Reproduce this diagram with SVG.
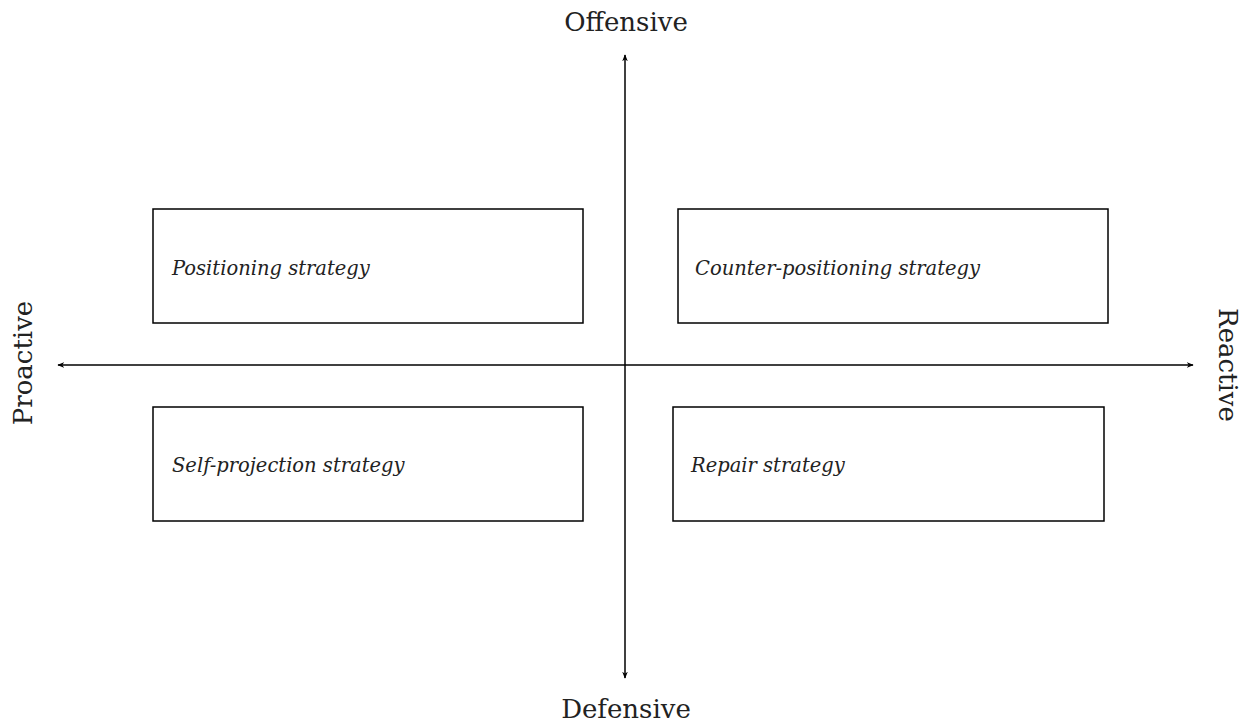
<svg xmlns="http://www.w3.org/2000/svg" width="1249" height="723" viewBox="0 0 1249 723">
<style>
.box{fill:#fff;stroke:#000;stroke-width:1.5}
.lbl{font-family:"DejaVu Serif","Liberation Serif",serif;font-style:italic;font-size:19.5px;fill:#222}
.ax{font-family:"DejaVu Serif","Liberation Serif",serif;font-size:26px;fill:#222}
.axis{stroke:#000;stroke-width:1.5;fill:none}
</style>
<defs>
<marker id="arr" viewBox="0 0 10 10" refX="9" refY="5" markerWidth="7" markerHeight="7" orient="auto-start-reverse" markerUnits="userSpaceOnUse">
<path d="M0,1 L10,5 L0,9 L3,5 Z" fill="#000"/>
</marker>
</defs>
<rect width="1249" height="723" fill="#fff"/>
<g id="connectors">
<line class="axis" x1="625" y1="678" x2="625" y2="55" marker-end="url(#arr)" marker-start="url(#arr)"/>
<line class="axis" x1="58" y1="365" x2="1193" y2="365" marker-end="url(#arr)" marker-start="url(#arr)"/>
</g>
<g id="positioning"><rect class="box" x="153" y="209" width="430" height="114"/><text class="lbl" x="172" y="275">Positioning strategy</text></g>
<g id="counter-positioning"><rect class="box" x="678" y="209" width="430" height="114"/><text class="lbl" x="695" y="275">Counter-positioning strategy</text></g>
<g id="self-projection"><rect class="box" x="153" y="407" width="430" height="114"/><text class="lbl" x="172" y="472">Self-projection strategy</text></g>
<g id="repair"><rect class="box" x="673" y="407" width="431" height="114"/><text class="lbl" x="691" y="472">Repair strategy</text></g>
<g id="offensive"><text class="ax" x="626" y="31" text-anchor="middle">Offensive</text></g>
<g id="defensive"><text class="ax" x="626" y="718" text-anchor="middle">Defensive</text></g>
<g id="proactive"><text class="ax" transform="translate(32,363) rotate(-90)" text-anchor="middle">Proactive</text></g>
<g id="reactive"><text class="ax" transform="translate(1219,365) rotate(90)" text-anchor="middle">Reactive</text></g>
</svg>
